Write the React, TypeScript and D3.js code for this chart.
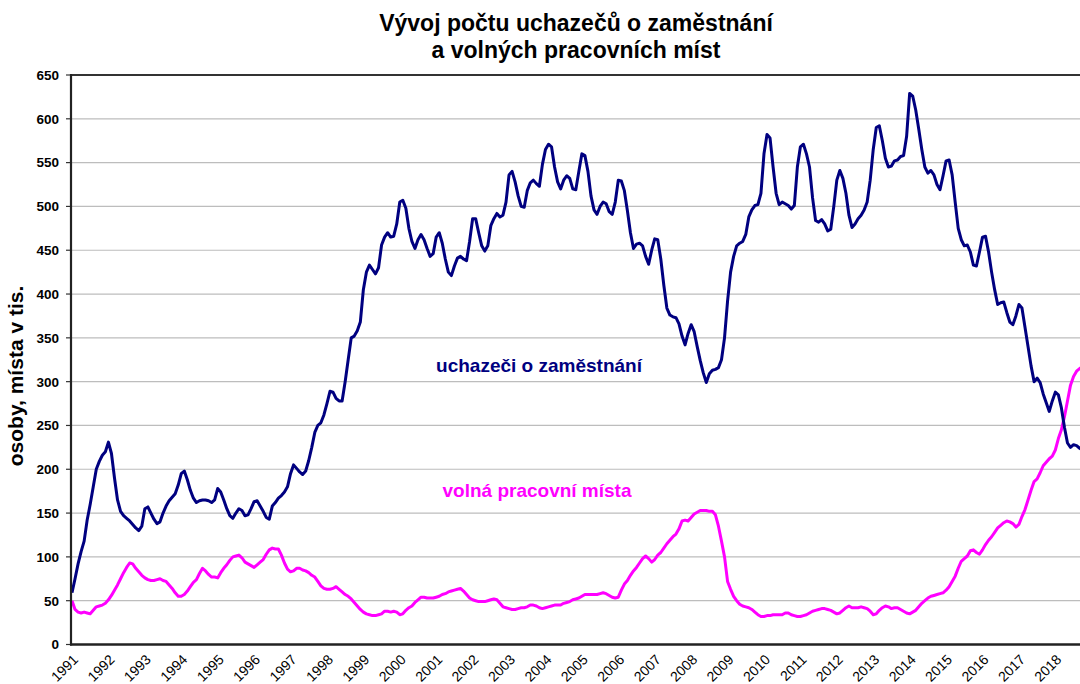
import React from 'react';
import * as d3 from 'd3';

const titleLines = ['Vývoj počtu uchazečů o zaměstnání', 'a volných pracovních míst'];
const yAxisTitle = 'osoby, místa v tis.';
const seriesNames = ['uchazeči o zaměstnání', 'volná pracovní místa'];

const yearLabels = [
  '1991', '1992', '1993', '1994', '1995', '1996', '1997', '1998', '1999', '2000',
  '2001', '2002', '2003', '2004', '2005', '2006', '2007', '2008', '2009', '2010',
  '2011', '2012', '2013', '2014', '2015', '2016', '2017', '2018',
];

const yTicks = [0, 50, 100, 150, 200, 250, 300, 350, 400, 450, 500, 550, 600, 650];

// monthly values from January 1991, thousands
const uchazeci = [
  59, 75, 92, 106, 118, 142, 160, 180, 200, 209, 216, 220,
  231, 218, 190, 165, 152, 147, 144, 141, 137, 133, 130, 135,
  155, 157, 150, 143, 138, 140, 150, 158, 164, 168, 172, 182,
  195, 198, 188, 176, 167, 162, 164, 165, 165, 164, 162, 165,
  178, 174, 165, 155, 147, 144, 150, 155, 153, 147, 148, 155,
  163, 164, 158, 152, 145, 143, 158, 162, 167, 170, 174, 180,
  195, 205, 201, 197, 194, 198, 210, 225, 242, 250, 253, 262,
  275, 289, 288, 281, 278, 278, 300, 325, 350, 352, 358, 368,
  405, 425, 433, 428, 423, 430, 456, 465, 470, 465, 466, 480,
  505, 507, 498, 475, 460, 452, 462, 468, 462, 452, 443, 446,
  465, 470, 458, 440, 425, 421, 432, 441, 443, 440, 438, 460,
  486, 486, 470, 455, 449, 455, 478, 486, 492, 488, 490, 505,
  536, 540, 528, 512, 500, 499, 518, 527, 530, 526, 523, 548,
  565, 571, 568, 545, 528, 520, 530, 535, 532, 520, 519, 540,
  560, 558, 540, 512, 496, 491, 500, 505, 503, 494, 491, 505,
  530, 529, 518, 495, 470, 452, 457, 458, 455, 443, 434, 450,
  463, 462, 440, 410, 384, 376, 374, 373, 366, 352, 342, 355,
  365, 357, 340, 324, 310, 299, 309, 313, 314, 316, 325, 350,
  392, 425, 443, 455, 458, 460, 468, 488, 496, 501, 502, 515,
  560, 582, 578, 545, 515, 502, 505, 503, 501, 497, 501, 545,
  568, 571, 560, 545, 510, 484, 482, 485, 480, 472, 474, 500,
  530, 541, 532, 515, 490, 476, 480, 486, 490, 496, 505, 530,
  565, 590, 592, 575, 555, 545, 546, 552, 553, 557, 558, 580,
  629, 626, 610, 588, 565, 545, 538, 541, 536, 525, 519, 535,
  552, 553, 536, 505, 475, 462, 455, 456, 448, 433, 432, 448,
  465, 466, 448, 425, 405, 388, 390, 391, 379, 368, 365, 375,
  388, 384, 362, 340, 318, 300, 304, 299, 286, 276, 266, 278,
  288, 285, 270, 248, 230, 225, 228, 227, 224, 222,
];

const volnaMista = [
  50, 40, 37, 36, 37, 36, 35, 39, 43, 44, 45, 47,
  51, 56, 62, 68, 75, 82, 88, 93, 92, 87, 83, 79,
  76, 74, 73, 73, 74, 75, 73, 72, 68, 64, 59, 55,
  55, 57, 61, 66, 71, 74, 81, 87, 84, 80, 77, 77,
  76, 82, 87, 91, 96, 100, 101, 102, 99, 94, 92, 90,
  88, 91, 94, 97, 103, 108, 110, 109, 109, 102, 93, 86,
  83, 84, 87, 87, 85, 84, 82, 79, 77, 72, 67, 64,
  63, 63, 64, 66, 63, 60, 57, 55, 52, 48, 44, 40,
  37, 35, 34, 33, 33, 34, 35, 38, 38, 37, 38, 37,
  34, 35, 39, 42, 44, 48, 51, 54, 54, 53, 53, 53,
  54, 55, 57, 58, 60, 61, 62, 63, 64, 61, 57, 53,
  51, 50, 49, 49, 49, 50, 51, 52, 51, 47, 43, 42,
  41, 40, 40, 41, 42, 42, 43, 45, 45, 44, 42, 41,
  42, 43, 44, 45, 45, 45, 47, 48, 49, 51, 52, 53,
  55, 57, 57, 57, 57, 57, 58, 59, 58, 56, 54, 53,
  54, 62, 69, 73, 79, 84, 88, 93, 98, 101, 98, 94,
  97, 102, 105, 110, 115, 119, 123, 126, 132, 141, 142, 141,
  145, 149, 151, 153, 153, 153, 152, 152, 148, 135, 118, 100,
  72, 63, 55, 50, 46, 44, 43, 42, 40, 37, 34, 32,
  32, 33, 33, 34, 34, 34, 34, 36, 36, 34, 33, 32,
  32, 33, 34, 36, 38, 39, 40, 41, 41, 40, 39, 37,
  35, 36, 39, 42, 44, 42, 42, 42, 43, 42, 41, 38,
  34, 35, 39, 42, 44, 43, 41, 42, 42, 40, 38, 36,
  35, 37, 39, 43, 47, 50, 53, 55, 56, 57, 58, 59,
  62, 66, 72, 78, 87, 95, 98, 101, 107, 108, 105, 103,
  108, 114, 119, 123, 128, 133, 136, 139, 141, 140, 138, 134,
  137, 146, 154, 165, 176, 186, 189, 196, 204, 208, 212, 215,
  222, 235, 245, 260, 278, 296, 306, 312, 315, 317,
];

const W = 1080;
const H = 684;
const FONT = '"Liberation Sans", Arial, Helvetica, sans-serif';
const BLUE = '#000080';
const PINK = '#ff00ff';

export default function App() {
  const left = 71;
  const top = 75;
  const bottom = 644.5;
  const step = 3.035;

  const x = d3.scaleLinear().domain([0, 1]).range([72, 72 + step]);
  const y = d3.scaleLinear().domain([0, 650]).range([bottom, top]);

  const line = d3
    .line<number>()
    .x((_, i) => x(i))
    .y((d) => y(d))
    .curve(d3.curveLinear);

  return (
    <svg
      width={W}
      height={H}
      style={{ position: 'absolute', left: 0, top: 0, background: '#fff' }}
      fontFamily={FONT}
    >
      <rect x={0} y={0} width={W} height={H} fill="#fff" />
      {/* title */}
      {titleLines.map((t, k) => (
        <text
          key={t}
          x={576}
          y={31 + k * 27}
          textAnchor="middle"
          fontSize={23}
          fontWeight="bold"
          fill="#000"
        >
          {t}
        </text>
      ))}

      {/* gridlines */}
      {yTicks
        .filter((v) => v > 0 && v < 650)
        .map((v) => (
          <line key={v} x1={left} x2={W} y1={y(v)} y2={y(v)} stroke="#bdbdbd" strokeWidth={1.2} />
        ))}
      {/* top border */}
      <line x1={left} x2={W} y1={top} y2={top} stroke="#333" strokeWidth={2} />

      {/* y ticks and labels */}
      {yTicks.map((v) => (
        <g key={'t' + v}>
          <line x1={66} x2={left} y1={y(v)} y2={y(v)} stroke="#333" strokeWidth={1.2} />
          <text
            x={59}
            y={y(v)}
            dy="0.36em"
            textAnchor="end"
            fontSize={13.5}
            fontWeight="bold"
            fill="#000"
          >
            {v}
          </text>
        </g>
      ))}

      {/* y axis title */}
      <text
        transform={`translate(23, 376) rotate(-90)`}
        textAnchor="middle"
        fontSize={21}
        fontWeight="bold"
        fill="#000"
      >
        {yAxisTitle}
      </text>

      {/* x labels */}
      {yearLabels.map((lab, k) => {
        const px = x(k * 12) + 7;
        const py = 660.5;
        return (
          <text
            key={lab}
            transform={`translate(${px}, ${py}) rotate(-45)`}
            textAnchor="end"
            fontSize={14}
            fill="#000"
          >
            {lab}
          </text>
        );
      })}

      {/* series */}
      <path d={line(volnaMista) || ''} fill="none" stroke={PINK} strokeWidth={3} strokeLinejoin="round" />
      <path d={line(uchazeci) || ''} fill="none" stroke={BLUE} strokeWidth={3} strokeLinejoin="round" />

      {/* axes */}
      <line x1={left} x2={left} y1={top - 1} y2={bottom + 1} stroke="#222" strokeWidth={2.2} />
      <line x1={left - 1} x2={W} y1={bottom} y2={bottom} stroke="#222" strokeWidth={2.4} />

      {/* annotations */}
      <text x={539} y={372} textAnchor="middle" fontSize={19} fontWeight="bold" fill={BLUE}>
        {seriesNames[0]}
      </text>
      <text x={537} y={497} textAnchor="middle" fontSize={19} fontWeight="bold" fill={PINK}>
        {seriesNames[1]}
      </text>
    </svg>
  );
}
